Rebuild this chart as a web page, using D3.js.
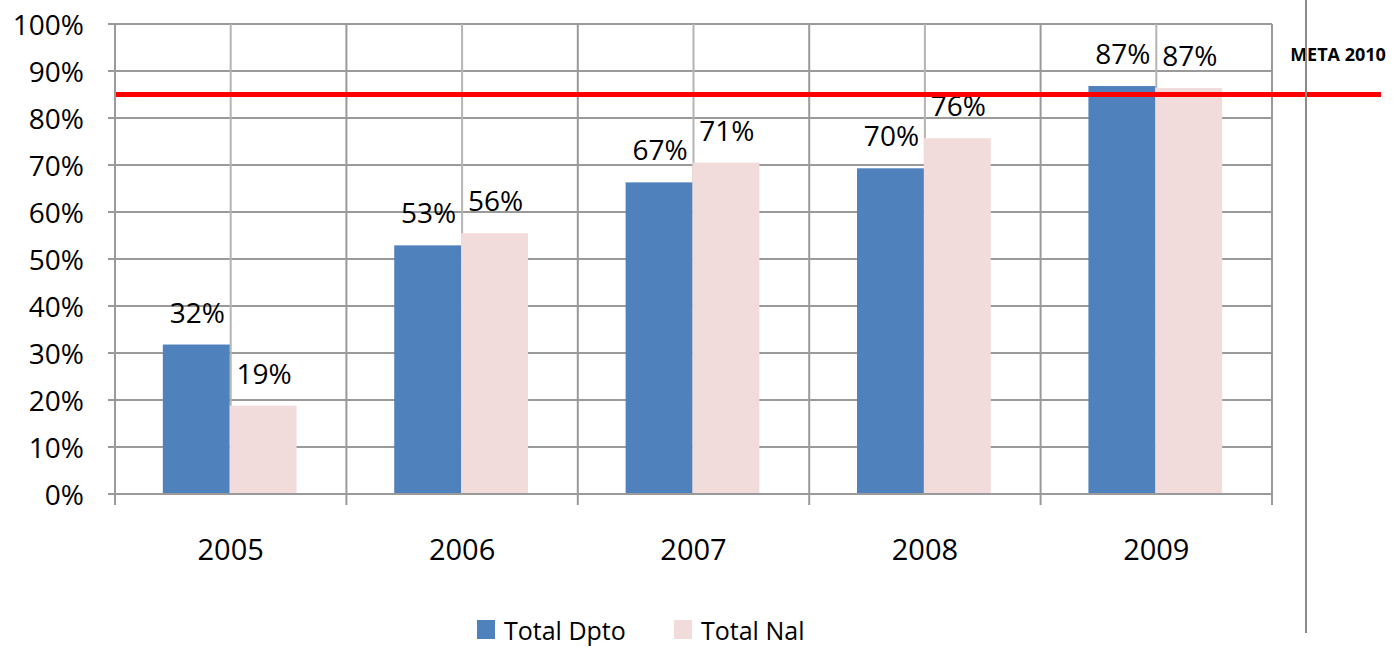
<!DOCTYPE html>
<html>
<head>
<meta charset="utf-8">
<script src="https://cdn.jsdelivr.net/npm/d3@7"></script>
<style>
  body { margin: 0; background: #fff; }
  text { font-family: "Open Sans", sans-serif; fill: #000; }
</style>
</head>
<body>
<div id="chart"></div>
<script>
// Data
const years = ["2005", "2006", "2007", "2008", "2009"];
const series = ["Total Dpto", "Total Nal"];
const dpto = [31.8, 52.9, 66.3, 69.3, 86.8];
const nal = [18.8, 55.5, 70.5, 75.7, 86.4];
const dptoLabels = ["32%", "53%", "67%", "70%", "87%"];
const nalLabels = ["19%", "56%", "71%", "76%", "87%"];
const yTicks = [0, 10, 20, 30, 40, 50, 60, 70, 80, 90, 100];
const meta = 85;
const metaLabel = "META 2010";

const width = 1393, height = 647;
const margin = { top: 24, right: 121, bottom: 153, left: 115 };
const colors = { "Total Dpto": "#4f81bd", "Total Nal": "#f2dcdb" };

const svg = d3.select("#chart").append("svg")
    .attr("width", width)
    .attr("height", height);

// Scales
const x = d3.scaleBand()
    .domain(years)
    .range([margin.left, width - margin.right])
    .padding(0);

const xSub = d3.scaleBand()
    .domain(series)
    .range([0, x.bandwidth()])
    .paddingInner(0)
    .paddingOuter(0.73);

const y = d3.scaleLinear()
    .domain([0, 100])
    .range([height - margin.bottom, margin.top]);

const gridColor = "#9a9a9a";

// Horizontal gridlines
svg.append("g").selectAll("line")
    .data(yTicks)
    .enter().append("line")
    .attr("x1", margin.left - 7)
    .attr("x2", width - margin.right)
    .attr("y1", d => y(d))
    .attr("y2", d => y(d))
    .attr("stroke", gridColor)
    .attr("stroke-width", 2);

// Vertical gridlines at category edges and centres
const vLines = [];
years.forEach(yr => {
    vLines.push({ x: x(yr), edge: true });
    vLines.push({ x: x(yr) + x.bandwidth() / 2, edge: false });
});
vLines.push({ x: width - margin.right, edge: true });

svg.append("g").selectAll("line")
    .data(vLines)
    .enter().append("line")
    .attr("x1", d => d.x)
    .attr("x2", d => d.x)
    .attr("y1", y(100))
    .attr("y2", d => d.edge ? y(0) + 11 : y(0))
    .attr("stroke", d => d.edge ? gridColor : "#b4b4b4")
    .attr("stroke-width", 2);

// Bars
const groups = svg.append("g").selectAll("g")
    .data(years)
    .enter().append("g")
    .attr("transform", d => `translate(${x(d)},0)`);

groups.append("rect")
    .attr("x", xSub("Total Dpto") - 1)
    .attr("width", xSub.bandwidth())
    .attr("y", (d, i) => y(dpto[i]))
    .attr("height", (d, i) => y(0) - y(dpto[i]))
    .attr("fill", colors["Total Dpto"]);

groups.append("rect")
    .attr("x", xSub("Total Nal") - 1)
    .attr("width", xSub.bandwidth())
    .attr("y", (d, i) => y(nal[i]))
    .attr("height", (d, i) => y(0) - y(nal[i]))
    .attr("fill", colors["Total Nal"]);

// Redraw the axis baseline over the bars
svg.append("line")
    .attr("x1", margin.left - 7)
    .attr("x2", width - margin.right)
    .attr("y1", y(0))
    .attr("y2", y(0))
    .attr("stroke", gridColor)
    .attr("stroke-width", 2);

// Data labels
groups.append("text")
    .attr("x", xSub("Total Dpto") + xSub.bandwidth() / 2)
    .attr("y", (d, i) => y(dpto[i]) - 22)
    .attr("text-anchor", "middle")
    .style("font-size", "28px")
    .text((d, i) => dptoLabels[i]);

groups.append("text")
    .attr("x", xSub("Total Nal") + xSub.bandwidth() / 2)
    .attr("y", (d, i) => y(nal[i]) - 22)
    .attr("text-anchor", "middle")
    .style("font-size", "28px")
    .text((d, i) => nalLabels[i]);

// Y axis labels
svg.append("g").selectAll("text")
    .data(yTicks)
    .enter().append("text")
    .attr("x", 84)
    .attr("y", d => y(d) + 11)
    .attr("text-anchor", "end")
    .style("font-size", "28px")
    .text(d => d + "%");

// X axis labels
svg.append("g").selectAll("text")
    .data(years)
    .enter().append("text")
    .attr("x", d => x(d) + x.bandwidth() / 2)
    .attr("y", y(0) + 66)
    .attr("text-anchor", "middle")
    .style("font-size", "29px")
    .text(d => d);

// Goal line
svg.append("line")
    .attr("x1", margin.left + 1)
    .attr("x2", 1381)
    .attr("y1", y(meta))
    .attr("y2", y(meta))
    .attr("stroke", "#ff0000")
    .attr("stroke-width", 5);

svg.append("text")
    .attr("x", 1338)
    .attr("y", 61)
    .attr("text-anchor", "middle")
    .style("font-size", "18px")
    .style("font-weight", "bold")
    .text(metaLabel);

// Right divider line
svg.append("line")
    .attr("x1", 1306)
    .attr("x2", 1306)
    .attr("y1", 0)
    .attr("y2", 633)
    .attr("stroke", "#8a8a8a")
    .attr("stroke-width", 2);

// Legend
const legend = svg.append("g")
    .attr("transform", "translate(477, 620)");

series.forEach((s, i) => {
    const lx = i * 197;
    legend.append("rect")
        .attr("x", lx)
        .attr("y", 0)
        .attr("width", 18)
        .attr("height", 19)
        .attr("fill", colors[s]);
    legend.append("text")
        .attr("x", lx + 27)
        .attr("y", 20)
        .style("font-size", "25px")
        .text(s);
});
</script>
</body>
</html>
